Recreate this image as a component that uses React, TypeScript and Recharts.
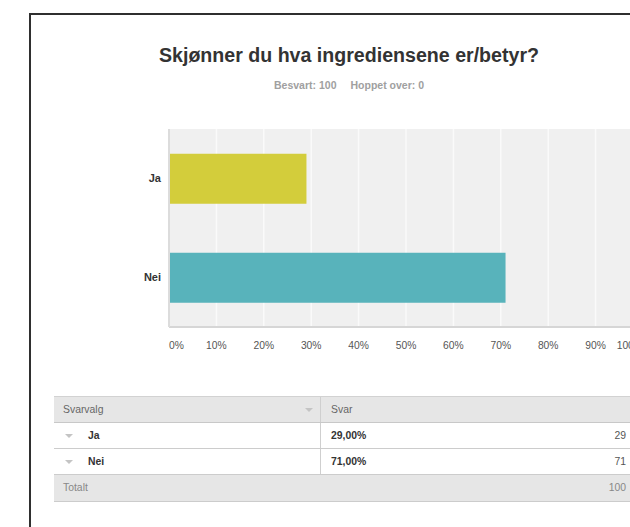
import React from 'react'
import { BarChart, Bar, XAxis, YAxis, CartesianGrid, Cell } from 'recharts'

const categories = ['Ja', 'Nei']
const percents = [29, 71]
const counts = [29, 71]
const total = 100
const barColors = ['#d3cd3b', '#58b3bb']
const xTicks = [0, 10, 20, 30, 40, 50, 60, 70, 80, 90, 100]

const FONT = '"Liberation Sans", Arial, Helvetica, sans-serif'

const chartData = categories.map((name, i) => ({ name, value: percents[i] }))

const PercentTick = (props: any) => {
  const { x, y, payload } = props
  const v = payload.value
  const anchor = v === xTicks[0] ? 'start' : v === xTicks[xTicks.length - 1] ? 'end' : 'middle'
  return (
    <text x={x} y={y} dy={22} textAnchor={anchor} fill="#555" fontSize={10.3} fontFamily={FONT}>
      {v}%
    </text>
  )
}

const Caret = ({ left, top }: { left: number; top: number }) => (
  <div
    style={{
      position: 'absolute',
      left,
      top,
      width: 0,
      height: 0,
      borderLeft: '4px solid transparent',
      borderRight: '4px solid transparent',
      borderTop: '4px solid #c4c4c4',
    }}
  />
)

const formatPct = (v: number) => v.toFixed(2).replace('.', ',') + '%'

function App() {
  const rowTop = 396
  const rowH = 26
  return (
    <div
      style={{
        position: 'absolute',
        left: 0,
        top: 0,
        width: 630,
        height: 527,
        overflow: 'hidden',
        background: '#fff',
        fontFamily: FONT,
      }}
    >
      {/* frame */}
      <div
        style={{
          position: 'absolute',
          left: 29,
          top: 13,
          width: 800,
          height: 800,
          borderLeft: '2px solid #2f2f2f',
          borderTop: '2px solid #2f2f2f',
        }}
      />

      <div
        style={{
          position: 'absolute',
          left: 0,
          width: 698,
          top: 44,
          textAlign: 'center',
          fontSize: 19.6,
          fontWeight: 'bold',
          color: '#333',
          whiteSpace: 'nowrap',
        }}
      >
        Skjønner du hva ingrediensene er/betyr?
      </div>
      <div
        style={{
          position: 'absolute',
          left: 0,
          width: 698,
          top: 79,
          textAlign: 'center',
          fontSize: 10.5,
          fontWeight: 'bold',
          color: '#a0a0a0',
          whiteSpace: 'nowrap',
        }}
      >
        Besvart: {total}
        <span style={{ marginLeft: 14 }}>Hoppet over: 0</span>
      </div>

      <div style={{ position: 'absolute', left: 0, top: 0 }}>
        <BarChart
          width={700}
          height={370}
          data={chartData}
          layout="vertical"
          margin={{ top: 129, right: 57, bottom: 13, left: 0 }}
          barCategoryGap="25%"
        >
          <CartesianGrid fill="#f0f0f0" horizontal={false} stroke="#fafafa" strokeWidth={1.5} />
          <XAxis
            type="number"
            domain={[0, 100]}
            ticks={xTicks}
            height={30}
            tickLine={false}
            tickSize={0}
            tickMargin={0}
            axisLine={{ stroke: '#d6d6d6', strokeWidth: 2 }}
            tick={<PercentTick />}
            interval={0}
          />
          <YAxis
            type="category"
            dataKey="name"
            width={169}
            tickLine={false}
            axisLine={{ stroke: '#dcdcdc', strokeWidth: 2 }}
            tick={{ fontSize: 11, fontWeight: 'bold', fill: '#333', fontFamily: FONT }}
          />
          <Bar dataKey="value" isAnimationActive={false}>
            {chartData.map((d, i) => (
              <Cell key={d.name} fill={barColors[i]} />
            ))}
          </Bar>
        </BarChart>
      </div>

      {/* table */}
      <div style={{ position: 'absolute', left: 54, top: rowTop, width: 600, fontSize: 10.4 }}>
        <div
          style={{
            position: 'relative',
            height: rowH + 1,
            background: '#e6e6e6',
            borderTop: '1px solid #d2d2d2',
            borderBottom: '1px solid #c8c8c8',
            boxSizing: 'border-box',
            color: '#666',
          }}
        >
          <span style={{ position: 'absolute', left: 9, top: 7 }}>Svarvalg</span>
          <Caret left={251} top={11} />
          <div style={{ position: 'absolute', left: 266, top: 0, bottom: 0, borderLeft: '1px solid #cfcfcf' }} />
          <span style={{ position: 'absolute', left: 277, top: 7 }}>Svar</span>
          <Caret left={578} top={11} />
        </div>
        {categories.map((c, i) => (
          <div
            key={c}
            style={{
              position: 'relative',
              height: rowH,
              background: '#fff',
              borderBottom: '1px solid #cccccc',
              boxSizing: 'border-box',
            }}
          >
            <Caret left={11} top={11} />
            <span style={{ position: 'absolute', left: 34, top: 7, fontWeight: 'bold', color: '#333' }}>{c}</span>
            <div style={{ position: 'absolute', left: 266, top: 0, bottom: 0, borderLeft: '1px solid #cfcfcf' }} />
            <span style={{ position: 'absolute', left: 277, top: 7, fontWeight: 'bold', color: '#333' }}>
              {formatPct(percents[i])}
            </span>
            <span style={{ position: 'absolute', right: 28, top: 7, color: '#555' }}>{counts[i]}</span>
          </div>
        ))}
        <div
          style={{
            position: 'relative',
            height: rowH + 1,
            background: '#e6e6e6',
            borderBottom: '1px solid #cccccc',
            boxSizing: 'border-box',
            color: '#888',
          }}
        >
          <span style={{ position: 'absolute', left: 9, top: 7 }}>Totalt</span>
          <span style={{ position: 'absolute', right: 28, top: 7 }}>{total}</span>
        </div>
      </div>
    </div>
  )
}

export default App
